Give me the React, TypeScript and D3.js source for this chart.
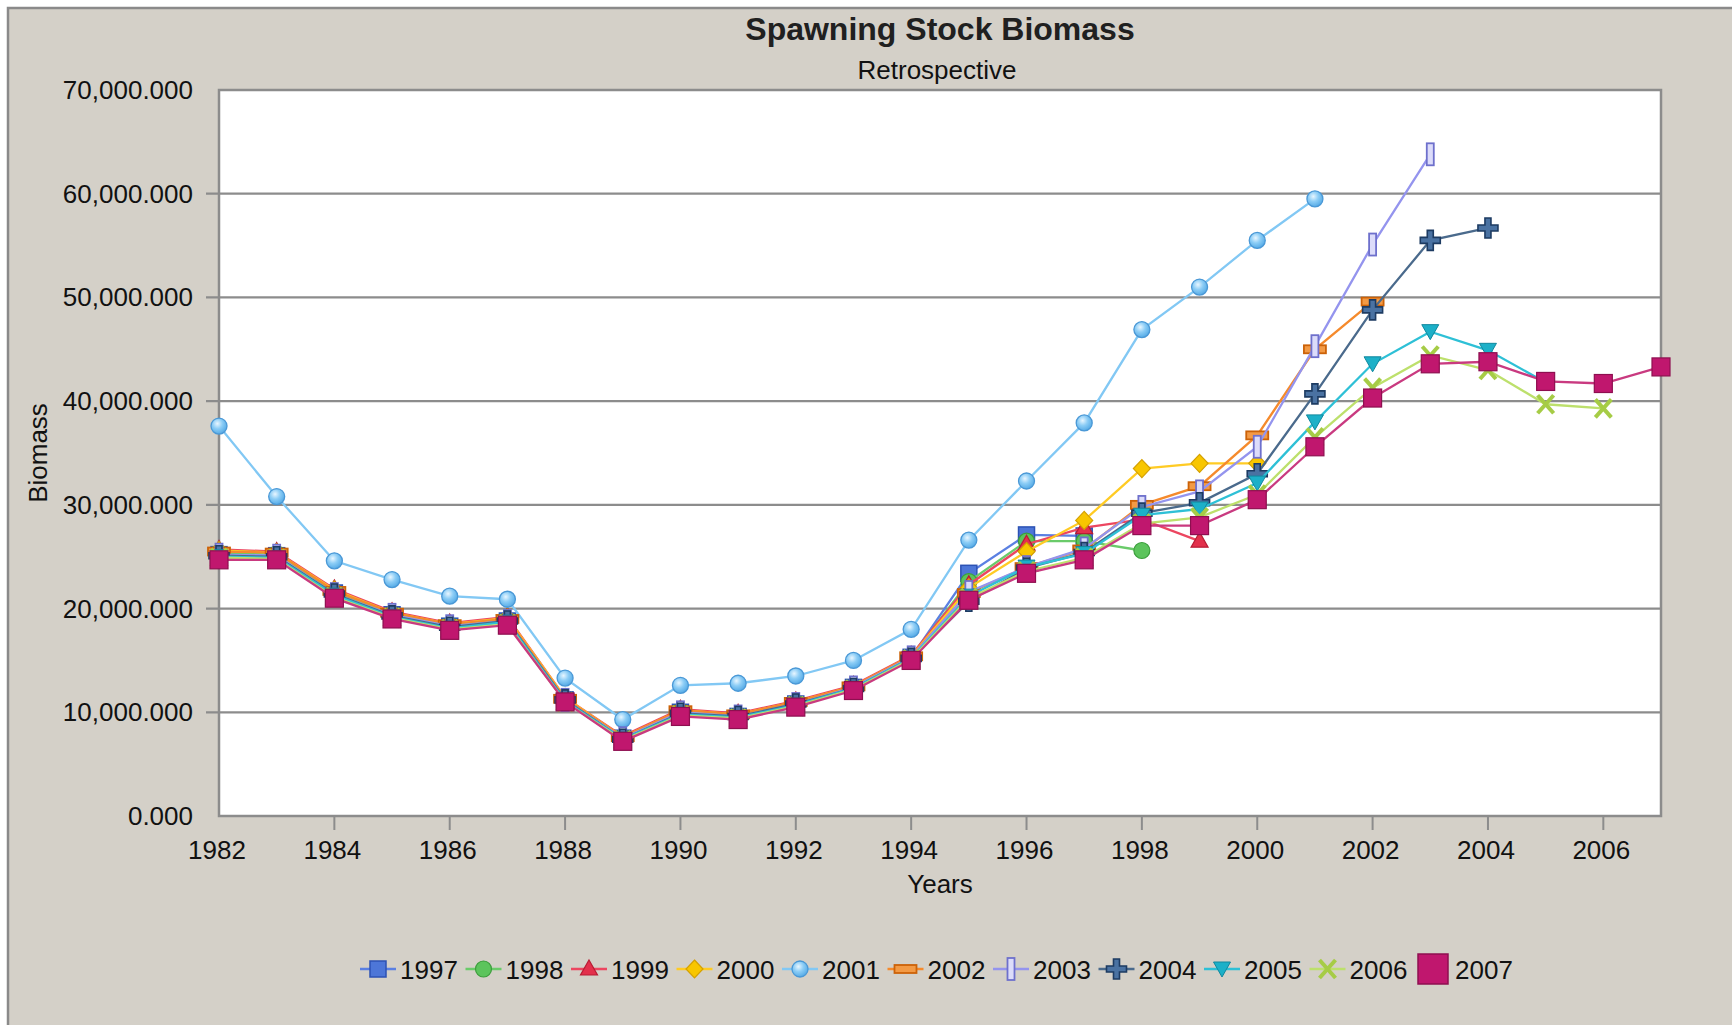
import React from 'react';
import * as d3 from 'd3';

// Spawning stock biomass, one retrospective run per assessment year.
const FIRST_YEAR = 1982;

const ssb1997 = [25200, 25100, 21500, 19400, 18300, 18800, 11200, 7500, 10000, 9600, 10800, 12400, 15300, 23400, 27100, 27000];
const ssb1998 = [25400, 25300, 21600, 19500, 18400, 18900, 11300, 7600, 10100, 9700, 10900, 12400, 15300, 22600, 26500, 26500, 25600];
const ssb1999 = [25700, 25500, 21900, 19700, 18600, 19200, 11400, 7700, 10300, 9900, 11100, 12600, 15500, 22300, 26200, 27800, 28600, 26500];
const ssb2000 = [25600, 25400, 21800, 19600, 18500, 19100, 11400, 7600, 10200, 9800, 11000, 12500, 15400, 22000, 25500, 28500, 33500, 34000, 34000];
const ssb2001 = [37600, 30800, 24600, 22800, 21200, 20900, 13300, 9300, 12600, 12800, 13500, 15000, 18000, 26600, 32300, 37900, 46900, 51000, 55500, 59500];
const ssb2002 = [25500, 25400, 21700, 19600, 18500, 19000, 11300, 7600, 10200, 9800, 11000, 12500, 15400, 21500, 24000, 25700, 30000, 31800, 36700, 45000, 49600];
const ssb2003 = [25200, 25100, 21400, 19400, 18300, 18800, 11200, 7500, 10000, 9600, 10800, 12400, 15300, 21600, 24000, 25800, 29800, 31300, 35600, 45300, 55100, 63800];
const ssb2004 = [25100, 25000, 21400, 19300, 18200, 18800, 11200, 7400, 9900, 9600, 10800, 12300, 15200, 20700, 23900, 25400, 29200, 30200, 33000, 40700, 48800, 55500, 56700];
const ssb2005 = [25000, 24900, 21300, 19200, 18100, 18700, 11100, 7400, 9800, 9500, 10700, 12300, 15200, 21200, 24000, 25300, 29000, 29600, 32100, 38000, 43600, 46700, 44900, 41800];
const ssb2006 = [24900, 24800, 21100, 19100, 18000, 18500, 11000, 7300, 9700, 9400, 10600, 12200, 15100, 21000, 23600, 24900, 28200, 28800, 31000, 36500, 41300, 44400, 43000, 39700, 39300];
const ssb2007 = [24700, 24700, 21000, 19000, 17900, 18400, 11000, 7200, 9600, 9300, 10500, 12100, 15000, 20800, 23400, 24700, 28000, 28000, 30500, 35600, 40300, 43600, 43800, 41900, 41700, 43300];

const runNames = ['1997', '1998', '1999', '2000', '2001', '2002', '2003', '2004', '2005', '2006', '2007'];
const runValues = [ssb1997, ssb1998, ssb1999, ssb2000, ssb2001, ssb2002, ssb2003, ssb2004, ssb2005, ssb2006, ssb2007];

const yTicks = [0, 10000, 20000, 30000, 40000, 50000, 60000, 70000];
const xTicks = [1982, 1984, 1986, 1988, 1990, 1992, 1994, 1996, 1998, 2000, 2002, 2004, 2006];

const styles = [
    {line: '#5b80e2', fill: '#4d76d8', edge: '#2c52b4', marker: 'square'},
    {line: '#6acb6a', fill: '#5cc45c', edge: '#3c9e3c', marker: 'circle'},
    {line: '#ec4660', fill: '#e3304c', edge: '#b81c34', marker: 'triangle'},
    {line: '#ffcb24', fill: '#f8c600', edge: '#d4a000', marker: 'diamond'},
    {line: '#82c8f4', fill: '#74bef0', edge: '#4a98d6', marker: 'bubble'},
    {line: '#f58a2c', fill: '#f39a45', edge: '#cc6208', marker: 'hbar'},
    {line: '#9494ee', fill: '#dcdcfa', edge: '#6e70cc', marker: 'vbar'},
    {line: '#4a6a8c', fill: '#4a72a2', edge: '#1d3b62', marker: 'plus'},
    {line: '#2ec0d6', fill: '#1cb0c8', edge: '#10889e', marker: 'tridown'},
    {line: '#bde06c', fill: '#a6cc46', edge: '#86aa30', marker: 'x'},
    {line: '#c93a80', fill: '#c0176e', edge: '#8e0f50', marker: 'bigsquare'},
];

const FONT = '"Liberation Sans", Arial, sans-serif';

function Marker({kind, x, y, st}) {
    const f = st.fill, e = st.edge;
    switch (kind) {
        case 'square':
            return <rect x={x - 8} y={y - 8} width={16} height={16} fill={f} stroke={e} strokeWidth={1.5}/>;
        case 'circle':
            return <circle cx={x} cy={y} r={8} fill={f} stroke={e} strokeWidth={1.2}/>;
        case 'triangle':
            return <path d={`M${x},${y - 9}L${x + 8.5},${y + 6}L${x - 8.5},${y + 6}Z`} fill={f} stroke={e} strokeWidth={1.2}/>;
        case 'diamond':
            return <path d={`M${x},${y - 9}L${x + 8.5},${y}L${x},${y + 9}L${x - 8.5},${y}Z`} fill={f} stroke={e} strokeWidth={1.2}/>;
        case 'bubble':
            return <circle cx={x} cy={y} r={8} fill="url(#bubbleGrad)" stroke={e} strokeWidth={1.3}/>;
        case 'hbar':
            return <rect x={x - 11} y={y - 4} width={22} height={8} fill={f} stroke={e} strokeWidth={1.8}/>;
        case 'vbar':
            return <rect x={x - 3.5} y={y - 11} width={7} height={22} fill={f} stroke={e} strokeWidth={1.8}/>;
        case 'plus':
            return <path d={`M${x - 3},${y - 10}h6v7h7v6h-7v7h-6v-7h-7v-6h7Z`} fill={f} stroke={e} strokeWidth={1.6}/>;
        case 'tridown':
            return <path d={`M${x - 8.5},${y - 7}L${x + 8.5},${y - 7}L${x},${y + 8}Z`} fill={f} stroke={e} strokeWidth={1}/>;
        case 'x':
            return <g stroke={f} strokeWidth={4}>
                <line x1={x - 8} y1={y - 9} x2={x + 8} y2={y + 9}/>
                <line x1={x + 8} y1={y - 9} x2={x - 8} y2={y + 9}/>
            </g>;
        case 'bigsquare':
            return <rect x={x - 9} y={y - 9} width={18} height={18} fill={f} stroke={e} strokeWidth={1.2}/>;
        default:
            return null;
    }
}

export default function App() {
    const W = 1732, H = 1025;
    const plot = {left: 219, right: 1661, top: 90, bottom: 816};

    const x = d3.scaleLinear().domain([1982, 2007]).range([plot.left, plot.right]);
    const y = d3.scaleLinear().domain([0, 70000]).range([plot.bottom, plot.top]);
    const fmt = d3.format(',.3f');

    const line = d3.line()
        .x((d, i) => x(FIRST_YEAR + i))
        .y(d => y(d));

    const legendX = d3.scaleLinear().domain([0, 10]).range([378, 1433]);
    const legendY = 969;

    return (
        <div style={{position: 'fixed', left: 0, top: 0}}>
            <svg width={W} height={H} style={{display: 'block'}} fontFamily={FONT}>
                <defs>
                    <radialGradient id="bubbleGrad" cx="0.4" cy="0.35" r="0.7">
                        <stop offset="0" stopColor="#e8f6ff"/>
                        <stop offset="0.45" stopColor="#8ccdf6"/>
                        <stop offset="1" stopColor="#4ea6e4"/>
                    </radialGradient>
                </defs>
                <rect x={0} y={0} width={W} height={H} fill="#ffffff"/>
                <rect x={8} y={8} width={W + 20} height={H + 20} fill="#d4d0c8" stroke="#8a8a8a" strokeWidth={2.5}/>

                <text x={940} y={40} textAnchor="middle" fontSize={32} fontWeight="bold" fill="#202020">Spawning Stock Biomass</text>
                <text x={937} y={79} textAnchor="middle" fontSize={26} fill="#111">Retrospective</text>

                <rect x={plot.left} y={plot.top} width={plot.right - plot.left} height={plot.bottom - plot.top}
                      fill="#ffffff" stroke="#8c8c8c" strokeWidth={2.5}/>

                {yTicks.map(t => (
                    <g key={'y' + t}>
                        {t > 0 && t < 70000 &&
                            <line x1={206} x2={plot.right} y1={y(t)} y2={y(t)} stroke="#8c8c8c" strokeWidth={2.2}/>}
                        <text x={193} y={y(t) + 9} textAnchor="end" fontSize={26} fill="#111">{fmt(t)}</text>
                    </g>
                ))}

                {xTicks.map(t => (
                    <g key={'x' + t}>
                        {t > 1982 &&
                            <line x1={x(t)} x2={x(t)} y1={plot.bottom} y2={plot.bottom + 14} stroke="#8c8c8c" strokeWidth={2}/>}
                        <text x={x(t) - 2} y={859} textAnchor="middle" fontSize={26} fill="#111">{t}</text>
                    </g>
                ))}

                <text x={940} y={893} textAnchor="middle" fontSize={26} fill="#111">Years</text>
                <text transform="translate(47,453) rotate(-90)" textAnchor="middle" fontSize={26} fill="#111">Biomass</text>

                {runValues.map((vals, si) => (
                    <g key={runNames[si]}>
                        <path d={line(vals)} fill="none" stroke={styles[si].line} strokeWidth={2.3}/>
                        {vals.map((v, i) => (
                            <Marker key={i} kind={styles[si].marker} x={x(FIRST_YEAR + i)} y={y(v)} st={styles[si]}/>
                        ))}
                    </g>
                ))}

                {runNames.map((name, si) => {
                    const cx = legendX(si);
                    const st = styles[si];
                    return (
                        <g key={'leg' + name}>
                            {st.marker === 'bigsquare'
                                ? <rect x={cx - 15} y={legendY - 15} width={30} height={30} fill={st.fill} stroke={st.edge} strokeWidth={1.5}/>
                                : <>
                                    <line x1={cx - 18} x2={cx + 18} y1={legendY} y2={legendY} stroke={st.line} strokeWidth={2.5}/>
                                    <Marker kind={st.marker} x={cx} y={legendY} st={st}/>
                                </>}
                            <text x={cx + 22} y={legendY + 10} fontSize={26} fill="#111">{name}</text>
                        </g>
                    );
                })}
            </svg>
        </div>
    );
}
